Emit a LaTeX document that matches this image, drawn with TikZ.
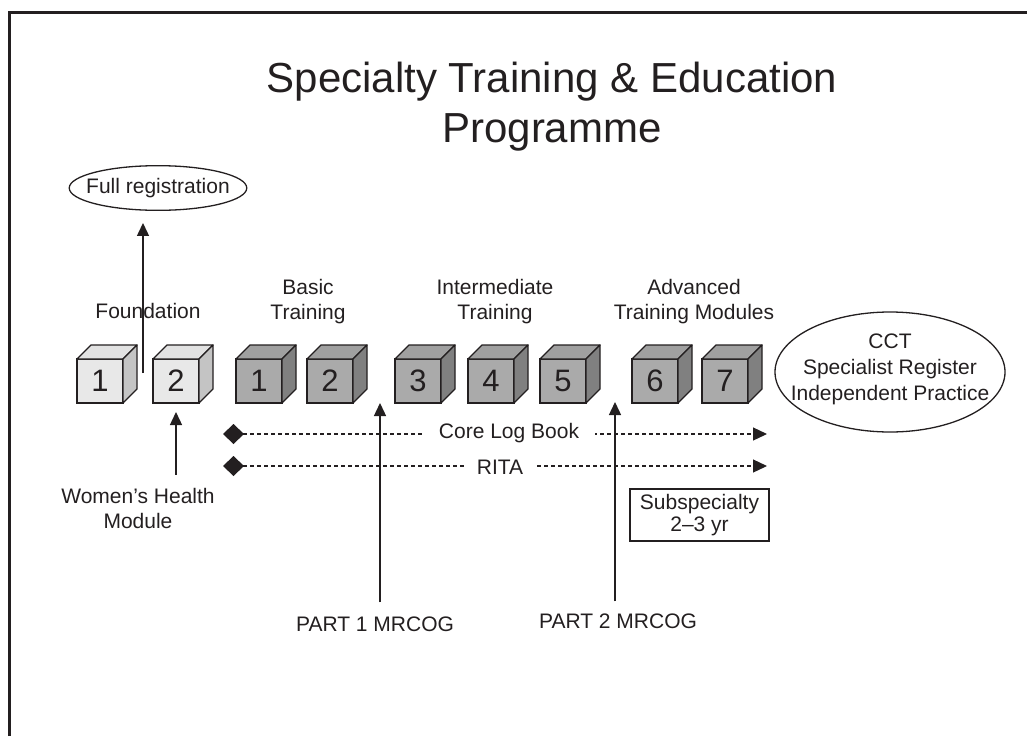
\documentclass[tikz,border=0pt]{standalone}
\usepackage{fontspec}
\setmainfont{Liberation Sans}
\usetikzlibrary{arrows.meta,shapes.geometric}
\definecolor{ink}{RGB}{35,31,32}
\definecolor{paleface}{RGB}{232,232,232}
\definecolor{paletop}{RGB}{226,226,226}
\definecolor{paleside}{RGB}{196,196,196}
\definecolor{darkface}{RGB}{170,170,170}
\definecolor{darktop}{RGB}{160,160,160}
\definecolor{darkside}{RGB}{128,128,128}
\begin{document}
\begin{tikzpicture}[x=1pt,y=-1pt,every node/.style={font=\fontsize{21}{25}\selectfont,text=ink},
  cube/.style={draw=ink,line width=1.3pt,minimum width=46pt,minimum height=44pt,inner sep=0pt,outer sep=0pt,font=\fontsize{31}{31}\selectfont},
  face/.style={draw=ink,line width=1.3pt,line join=round},
  arr/.style={draw=ink,line width=1.4pt,-{Triangle[length=13pt,width=12pt]}},
  track/.style={draw=ink,line width=1.2pt,dash pattern=on 4pt off 3pt,{Diamond[length=21pt,width=20pt]}-{Triangle[length=14pt,width=13pt]}},
  stage/.style={align=center,inner sep=1pt}]
\useasboundingbox (0,0) rectangle (1027,736);
\draw[ink,line width=3pt] (9,736) -- (9,12) -- (1027,12);
% Title
\node[align=center,font=\fontsize{42}{50}\selectfont] (title) at (552,107) {Specialty Training \& Education\\Programme};
% Stage labels
\node[stage] (fnd) at (148,311) {Foundation};
\node[stage] (bas) at (308,302) {Basic\\Training};
\node[stage] (int) at (495,302) {Intermediate\\Training};
\node[stage] (adv) at (694,302) {Advanced\\Training Modules};
% Cubes
\foreach \x/\n/\kind [count=\i] in {77/1/pale,153/2/pale,236/1/dark,307/2/dark,395/3/dark,468/4/dark,540/5/dark,632/6/dark,702/7/dark} {
  \node[cube,fill=\kind face] (c\i) at (\x+23,381) {\n};
  \filldraw[face,fill=\kind top] (c\i.north west) -- ++(14,-14) -- ++(46,0) -- (c\i.north east) -- cycle;
  \filldraw[face,fill=\kind side] (c\i.north east) -- ++(14,-14) -- ++(0,44) -- (c\i.south east) -- cycle;
}
% Full registration
\node[draw=ink,ellipse,line width=1.3pt,inner xsep=-9pt,inner ysep=6pt] (freg) at (158,188) {Full registration};
\coordinate (fbase) at (143,373);
\draw[arr,shorten >=12pt] (fbase) -- (fbase |- freg.south);
% Women's Health Module
\node[align=center,inner sep=2pt] (whm) at (138,508) {Women's Health\\Module};
\draw[arr,shorten <=11pt,shorten >=9pt] (whm.north -| c2.south) -- (c2.south);
% Core log book and RITA
\coordinate (logA) at (223,434);
\coordinate (logB) at (767,434);
\draw[track] (logA) -- (logB);
\node[fill=white,inner xsep=16pt,inner ysep=1pt] (logbook) at (509,433) {Core Log Book};
\coordinate (ritaA) at (223,466);
\coordinate (ritaB) at (767,466);
\draw[track] (ritaA) -- (ritaB);
\node[fill=white,inner xsep=11pt,inner ysep=1pt] (rita) at (500,467) {RITA};
% Subspecialty
\node[draw=ink,line width=1.2pt,minimum width=139pt,minimum height=52pt,align=center,inner sep=0pt,font=\fontsize{21}{22}\selectfont] (subsp) at (699.5,515) {Subspecialty\\2--3 yr};
% MRCOG exams
\node[inner sep=2pt] (mr1) at (375,624) {PART 1 MRCOG};
\node[inner sep=2pt] (mr2) at (618,621) {PART 2 MRCOG};
\coordinate (gap1) at (380,403);
\coordinate (gap2) at (615,402);
\draw[arr,shorten <=12pt] (mr1.north -| gap1) -- (gap1);
\draw[arr,shorten <=10pt] (mr2.north -| gap2) -- (gap2);
% CCT
\node[draw=ink,ellipse,line width=1.3pt,minimum width=230pt,minimum height=120pt,inner sep=0pt] (cct) at (890,372) {};
\node[align=center,inner sep=0pt,font=\fontsize{21}{26}\selectfont] (cctnote) at (cct.center) [yshift=3pt] {CCT\\Specialist Register\\Independent Practice};
\end{tikzpicture}
\end{document}
